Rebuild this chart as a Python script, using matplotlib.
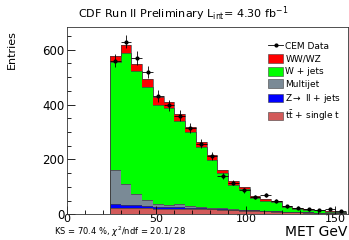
import numpy as np
import matplotlib.pyplot as plt
from matplotlib.patches import Patch
from matplotlib.lines import Line2D

plt.rcParams['font.family'] = 'DejaVu Sans'

### --- Data ---
bin_edges = np.arange(24, 157, 6)   # 22 bins of 6 GeV
ttbar    = [22, 22, 23, 22, 21, 21, 20, 20, 19, 18, 16, 15, 13, 12, 11, 10, 8, 7, 6, 5, 4, 3]
zll      = [15, 12, 10, 8, 7, 6, 5, 4, 4, 3, 3, 2, 2, 2, 1, 1, 1, 1, 1, 1, 1, 0]
multijet = [123, 76, 40, 22, 9, 8, 12, 6, 2, 3, 3, 3, 2, 1, 1, 1, 0, 0, 0, 0, 0, 0]
wjets    = [396, 477, 449, 413, 362, 352, 304, 269, 220, 175, 129, 88, 75, 45, 37, 32, 19, 13, 10, 8, 5, 4]
wwwz     = [23, 31, 27, 27, 29, 23, 24, 18, 18, 16, 12, 12, 8, 6, 5, 4, 3, 3, 2, 2, 2, 1]
data     = [560, 630, 570, 518, 432, 397, 360, 314, 257, 211, 139, 116, 88, 64, 71, 48, 29, 24, 18, 15, 19, 12]

components = [
    ("WW/WZ", wwwz, "#ff0000"),
    ("W + jets", wjets, "#00ff00"),
    ("Multijet", multijet, "#7a8a96"),
    (r"Z$\rightarrow$ ll + jets", zll, "#0000ff"),
    (r"t$\bar{\mathrm{t}}$ + single t", ttbar, "#d25a5a"),
]

### --- Plot ---
fig = plt.figure(figsize=(3.49, 2.40), dpi=100)
ax = fig.add_axes([0.192, 0.107, 0.805, 0.7805])

centers = 0.5 * (bin_edges[:-1] + bin_edges[1:])
widths = np.diff(bin_edges)

# stack from the bottom: ttbar, Z->ll, multijet, W+jets, WW/WZ
bottom = np.zeros(len(centers))
for name, vals, col in components[::-1]:
    vals = np.array(vals, dtype=float)
    ax.bar(bin_edges[:-1], vals, width=widths, bottom=bottom, align='edge',
           color=col, edgecolor='none', linewidth=0)
    bottom = bottom + vals
    ax.stairs(bottom, bin_edges, color='#404040', linewidth=0.5)

data = np.array(data, dtype=float)
ax.errorbar(centers, data, yerr=np.sqrt(data), xerr=widths / 2, fmt='o',
            color='black', markersize=2, elinewidth=0.6, capsize=0)

ax.set_xlim(0, 157)
ax.set_ylim(0, 683)
ax.set_xticks([0, 50, 100, 150])
ax.set_yticks([0, 200, 400, 600])
ax.set_xticks(np.arange(0, 158, 10), minor=True)
ax.set_yticks(np.arange(0, 683, 50), minor=True)
ax.tick_params(which='both', direction='in', top=False, right=False, labelsize=8.5)
ax.tick_params(axis='x', pad=0, labelsize=8)
ax.tick_params(axis='y', pad=2)
ax.tick_params(which='major', length=6, width=0.6)
ax.tick_params(which='minor', length=3, width=0.6)
for s in ax.spines.values():
    s.set_linewidth(0.6)
    s.set_color('#333333')

handles = [Line2D([0], [0], color='black', marker='o', markersize=2, linewidth=0.6)]
labels = ["CEM Data"]
for name, vals, col in components:
    handles.append(Patch(facecolor=col, edgecolor='#404040', linewidth=0.4))
    labels.append(name)
ax.legend(handles, labels, loc='upper right', bbox_to_anchor=(1.0, 0.955), frameon=False,
          fontsize=6.5, handlelength=1.6, handleheight=1.1, labelspacing=0.35,
          handletextpad=0.3, borderaxespad=0.3)

fig.text(0.525, 0.945, r"CDF Run II Preliminary L$_{\rm int}$= 4.30 fb$^{-1}$",
         ha='center', va='center', fontsize=8)
fig.text(0.035, 0.875, "Entries", rotation=90, ha='center', va='top', fontsize=8)
fig.text(0.995, 0.003, "MET GeV", ha='right', va='bottom', fontsize=10)
fig.text(0.155, 0.003, r"KS = 70.4 %, $\chi^2$/ndf = 20.1/ 28", ha='left', va='bottom', fontsize=6)

fig.savefig("out.png", dpi=100)
